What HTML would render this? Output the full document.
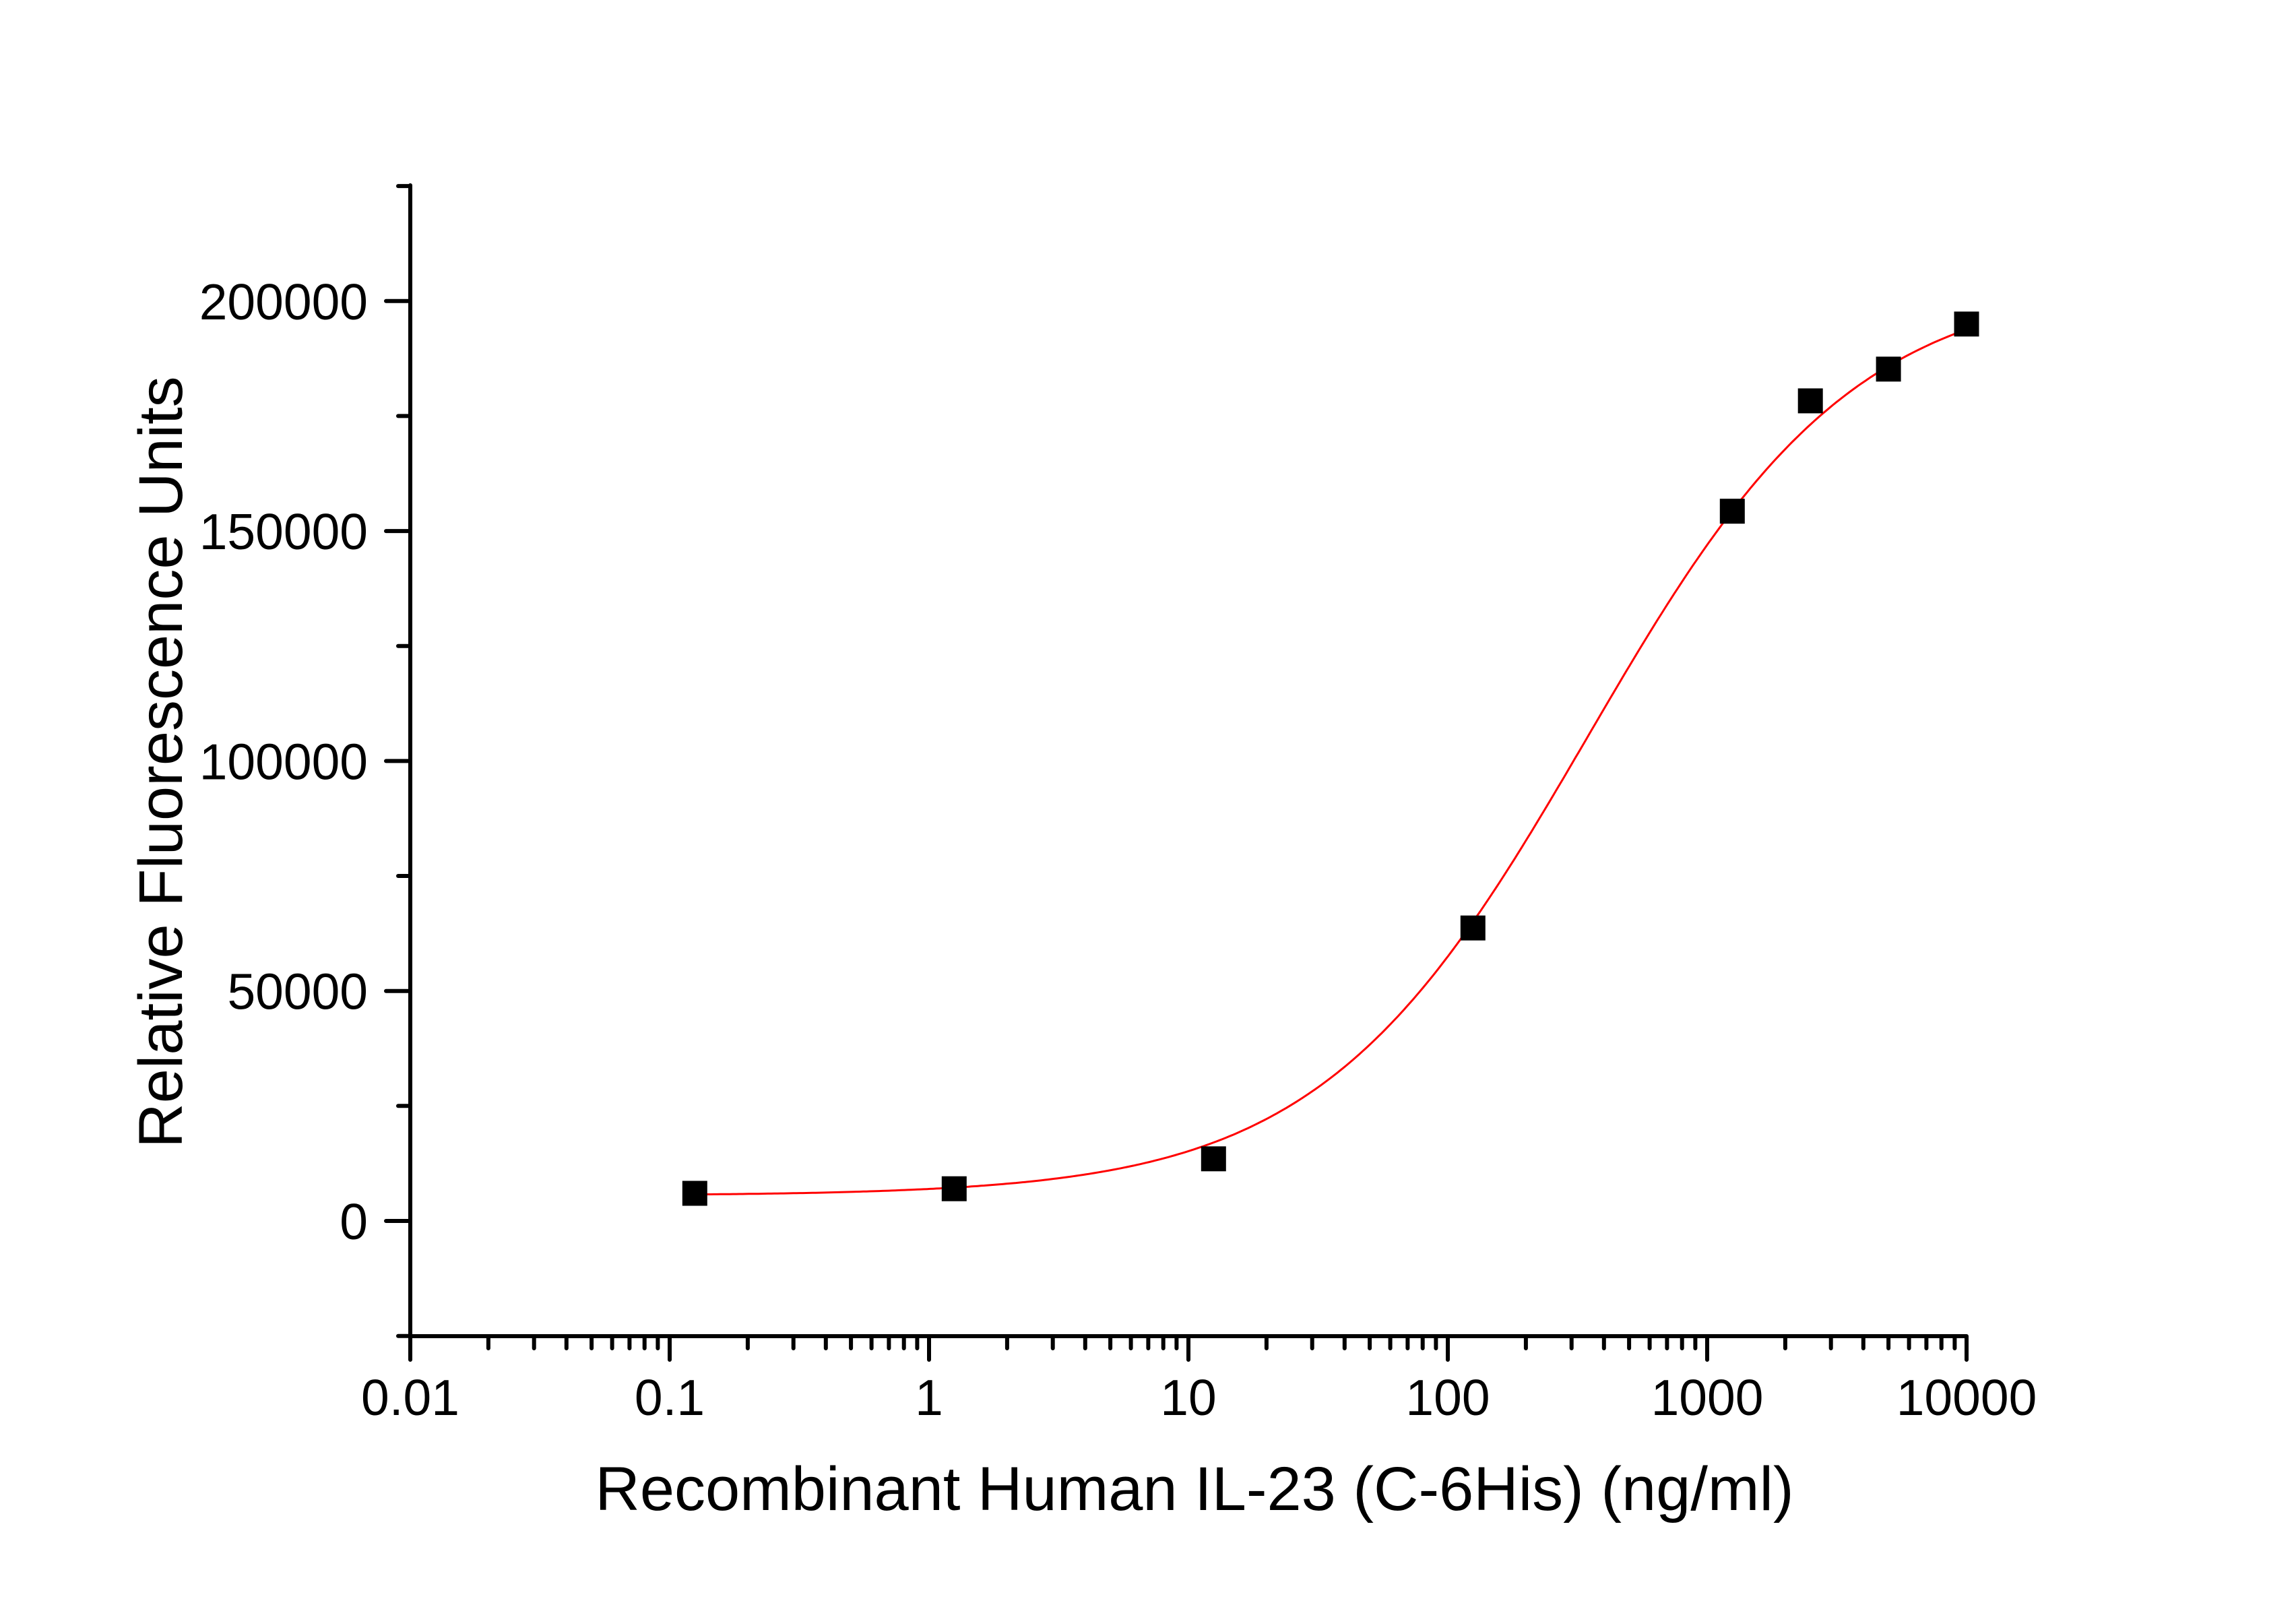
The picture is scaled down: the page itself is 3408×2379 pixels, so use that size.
<!DOCTYPE html>
<html><head><meta charset="utf-8"><style>
html,body{margin:0;padding:0;background:#fff;}
svg{display:block;}
text{font-family:"Liberation Sans",Arial,sans-serif;fill:#000;}
</style></head><body>
<svg id="s" width="3408" height="2379" viewBox="0 0 3408 2379" xmlns="http://www.w3.org/2000/svg">
<g id="ax" stroke="#000" stroke-width="6" stroke-linecap="round" fill="none"></g>
<g id="lbl" font-size="75"></g>
<path id="curve" fill="none" stroke="#ff0000" stroke-width="3"/>
<g id="pts" fill="#000"></g>
<text x="1773" y="2241" font-size="92" text-anchor="middle">Recombinant Human IL-23 (C-6His) (ng/ml)</text>
<text transform="translate(270,1131) rotate(-90)" font-size="92" text-anchor="middle">Relative Fluorescence Units</text>
</svg>
<script>
var NS="http://www.w3.org/2000/svg";
var X0=609,DEC=385,Y0=1812,PY=341.3/50000;
function px(v){return X0+(Math.log10(v)+2)*DEC;}
function py(v){return Y0-v*PY;}
function el(n,a,p){var e=document.createElementNS(NS,n);for(var k in a)e.setAttribute(k,a[k]);p.appendChild(e);return e;}
var ax=document.getElementById('ax'),lbl=document.getElementById('lbl');
var d="M609 275 L609 1983 L2919 1983";
for(var v=-25000;v<=225000;v+=25000){var y=py(v);var L=(v%50000===0)?36:18;d+=" M"+(609-L)+" "+y.toFixed(1)+" L609 "+y.toFixed(1);
 if(v%50000===0&&v>=0){var t=el('text',{x:546,y:(y+27).toFixed(1),'text-anchor':'end'},lbl);t.textContent=String(v);}}
var xl=["0.01","0.1","1","10","100","1000","10000"];
for(var i=0;i<=6;i++){var x=X0+i*DEC;d+=" M"+x+" 1983 L"+x+" 2018";
 var t=el('text',{x:x,y:2100,'text-anchor':'middle'},lbl);t.textContent=xl[i];
 if(i<6)for(var m=2;m<=9;m++){var xm=x+Math.log10(m)*DEC;d+=" M"+xm.toFixed(1)+" 1983 L"+xm.toFixed(1)+" 2001";}}
el('path',{d:d},ax);
var A=5500,D=205000,C=346,H=0.84;
function f(x){return A+(D-A)/(1+Math.pow(C/x,H));}
var c="";for(var k=0;k<=400;k++){var lx=Math.log10(0.125)+k/400*(4-Math.log10(0.125));var xv=Math.pow(10,lx);c+=(k?" L":"M")+px(xv).toFixed(1)+" "+py(f(xv)).toFixed(1);}
document.getElementById('curve').setAttribute('d',c);
var P=[[0.125,6000],[1.25,7000],[12.5,13500],[125,63700],[1250,154300],[2500,178300],[5000,185200],[10000,195000]];
var g=document.getElementById('pts');
P.forEach(function(p){el('rect',{x:(px(p[0])-18.5).toFixed(1),y:(py(p[1])-18.5).toFixed(1),width:37,height:37},g);});
</script>
</body></html>
